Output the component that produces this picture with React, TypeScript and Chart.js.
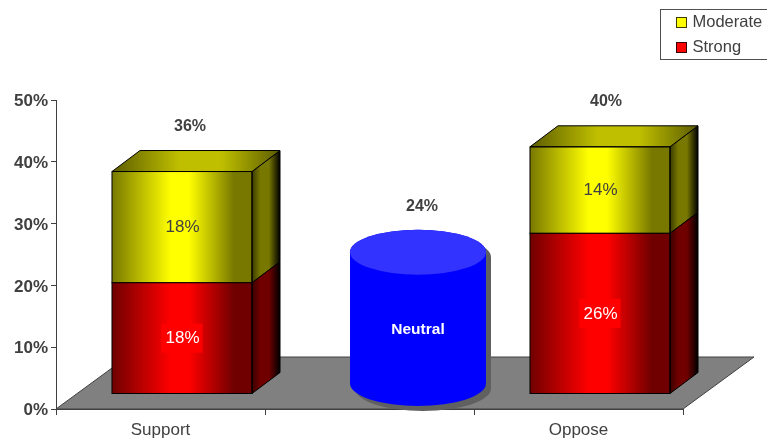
import React, { useEffect, useRef } from "react";
import { Chart, registerables } from "chart.js";

Chart.register(...registerables);

const categories = ["Support", "", "Oppose"];
const strongValues = [18, null, 26];
const moderateValues = [18, null, 14];
const neutralValues = [null, 24, null];
const totals = [36, 24, 40];
const yTicks = { min: 0, max: 50, stepSize: 10 };

const FONT = "'Liberation Sans', Arial, sans-serif";
const TEXT = "#404040";
const SHIFT = { x: 21.5, y: -15 };
const DEPTH = { x: 28, y: -21 };
const FLOOR = { x: 71, y: -52 };
const BAR_FRACTION = 0.67;
const CYL = { dx: 48.5, topInset: -8.5, baseInset: -25, halfW: 68, ry: 22.5, shadow: 5 };
const TOTAL_LABEL = [
  { dx: 8, dy: -45 },
  { dx: 31, dy: -39 },
  { dx: 6, dy: -45 },
];
const LEGEND = { left: 660.5, top: 9.5, width: 120, height: 50, swatchX: 676.5, textX: 692.5, rows: [22.5, 47.5] };

const shades: Record<string, { bright: string; mid: string; top: string; dark: string; edge: string }> = {
  yellow: { bright: "#ffff00", mid: "#787800", top: "#bfbf00", dark: "#5c5c00", edge: "#3c3c00" },
  red: { bright: "#ff0000", mid: "#700000", top: "#bf0000", dark: "#5c0000", edge: "#3c0000" },
};

function frontFill(colour: string) {
  return (c: any) => {
    const s = shades[colour];
    if (c.type !== "data") return s.bright;
    const xs = c.chart.scales.x;
    // The canvas is already translated by SHIFT when the bar is painted.
    const cx = xs.getPixelForValue(c.dataIndex);
    const half = ((xs.width / categories.length) * BAR_FRACTION) / 2;
    if (!isFinite(cx) || !isFinite(half)) return s.bright;
    const g = c.chart.ctx.createLinearGradient(cx - half, 0, cx + half, 0);
    g.addColorStop(0, s.mid);
    g.addColorStop(0.42, s.bright);
    g.addColorStop(0.55, s.bright);
    g.addColorStop(0.87, s.mid);
    g.addColorStop(1, s.mid);
    return g;
  };
}

function face(ctx: CanvasRenderingContext2D, pts: number[][], fill: any, stroke: string) {
  ctx.beginPath();
  pts.forEach((p, i) => (i ? ctx.lineTo(p[0], p[1]) : ctx.moveTo(p[0], p[1])));
  ctx.closePath();
  ctx.fillStyle = fill;
  ctx.fill();
  ctx.strokeStyle = stroke;
  ctx.lineWidth = 1;
  ctx.stroke();
}

const threeD = {
  id: "threeD",
  beforeDatasetsDraw(chart: any) {
    const { ctx, chartArea: a } = chart;
    ctx.save();
    face(
      ctx,
      [
        [a.left, a.bottom],
        [a.left + FLOOR.x, a.bottom + FLOOR.y],
        [a.right + FLOOR.x, a.bottom + FLOOR.y],
        [a.right, a.bottom],
      ],
      "#808080",
      "#404040"
    );
    ctx.restore();
  },
  beforeDatasetDraw(chart: any) {
    chart.ctx.save();
    chart.ctx.translate(SHIFT.x, SHIFT.y);
  },
  afterDatasetDraw(chart: any, args: any) {
    const { ctx } = chart;
    const ds = chart.data.datasets[args.index];
    const colour = ds.colourName;
    if (colour) {
      const s = shades[colour];
      chart.getDatasetMeta(args.index).data.forEach((el: any, i: number) => {
        if (ds.data[i] == null) return;
        const { x, y, base, width } = el.getProps(["x", "y", "base", "width"], true);
        const L = x - width / 2;
        const R = x + width / 2;
        const side = ctx.createLinearGradient(R, 0, R + DEPTH.x, 0);
        side.addColorStop(0, s.edge);
        side.addColorStop(0.3, s.mid);
        side.addColorStop(0.6, s.mid);
        side.addColorStop(1, "#000000");
        face(
          ctx,
          [
            [R, y],
            [R + DEPTH.x, y + DEPTH.y],
            [R + DEPTH.x, base + DEPTH.y],
            [R, base],
          ],
          side,
          "#000000"
        );
        if (ds.topFace) {
          const g = ctx.createLinearGradient(L, 0, R + DEPTH.x, 0);
          g.addColorStop(0, s.dark);
          g.addColorStop(0.4, s.top);
          g.addColorStop(0.65, s.top);
          g.addColorStop(1, s.dark);
          face(
            ctx,
            [
              [L, y],
              [L + DEPTH.x, y + DEPTH.y],
              [R + DEPTH.x, y + DEPTH.y],
              [R, y],
            ],
            g,
            "#000000"
          );
        }
        ctx.strokeStyle = "#000000";
        ctx.lineWidth = 1;
        ctx.strokeRect(L, y, width, base - y);
      });
    }
    ctx.restore();
  },
  afterDatasetsDraw(chart: any) {
    const { ctx } = chart;
    // Neutral cylinder
    chart.data.datasets.forEach((ds: any, di: number) => {
      if (!ds.cylinder) return;
      chart.getDatasetMeta(di).data.forEach((el: any, i: number) => {
        if (ds.data[i] == null) return;
        const { x, y, base } = el.getProps(["x", "y", "base"], true);
        const cx = x + CYL.dx;
        const top = y + CYL.topInset;
        const bot = base + CYL.baseInset;
        const body = (ox: number, oy: number, fill: string) => {
          ctx.beginPath();
          ctx.moveTo(cx - CYL.halfW + ox, top + oy);
          ctx.lineTo(cx - CYL.halfW + ox, bot + oy);
          ctx.ellipse(cx + ox, bot + oy, CYL.halfW, CYL.ry, 0, Math.PI, 0, true);
          ctx.lineTo(cx + CYL.halfW + ox, top + oy);
          ctx.ellipse(cx + ox, top + oy, CYL.halfW, CYL.ry, 0, 0, Math.PI, true);
          ctx.closePath();
          ctx.fillStyle = fill;
          ctx.fill();
        };
        body(CYL.shadow, CYL.shadow, "#606060");
        body(0, 0, "#0000ff");
        ctx.beginPath();
        ctx.ellipse(cx, top, CYL.halfW, CYL.ry, 0, 0, Math.PI * 2);
        ctx.fillStyle = "#3333ff";
        ctx.fill();
        ctx.font = `bold 15.5px ${FONT}`;
        ctx.fillStyle = "#ffffff";
        ctx.textAlign = "center";
        ctx.textBaseline = "middle";
        ctx.fillText(ds.label, cx, (top + bot) / 2 + 11.5);
      });
    });
    // Segment labels
    ctx.textAlign = "center";
    ctx.textBaseline = "middle";
    chart.data.datasets.forEach((ds: any, di: number) => {
      if (!ds.colourName) return;
      chart.getDatasetMeta(di).data.forEach((el: any, i: number) => {
        if (ds.data[i] == null) return;
        const { x, y, base } = el.getProps(["x", "y", "base"], true);
        const cx = x + SHIFT.x + 0.5;
        const cy = (y + base) / 2 + SHIFT.y;
        if (ds.colourName === "red") {
          ctx.fillStyle = "#ff0000";
          ctx.fillRect(cx - 21, cy - 14.5, 41, 29);
        }
        ctx.font = `17px ${FONT}`;
        ctx.fillStyle = ds.colourName === "red" ? "#ffffff" : TEXT;
        ctx.fillText(`${ds.data[i]}%`, cx, cy + 0.5);
      });
    });
    // Totals
    const xs = chart.scales.x;
    const ys = chart.scales.y;
    ctx.font = `bold 16px ${FONT}`;
    ctx.fillStyle = TEXT;
    totals.forEach((t, i) => {
      const pos = TOTAL_LABEL[i];
      ctx.fillText(`${t}%`, xs.getPixelForValue(i) + SHIFT.x + pos.dx, ys.getPixelForValue(t) + SHIFT.y + pos.dy);
    });
    // Legend
    ctx.strokeStyle = "#505050";
    ctx.lineWidth = 1;
    ctx.strokeRect(LEGEND.left, LEGEND.top, LEGEND.width, LEGEND.height);
    const items = chart.data.datasets.filter((d: any) => d.colourName).reverse();
    items.forEach((d: any, i: number) => {
      const yc = LEGEND.rows[i];
      const s = shades[d.colourName];
      ctx.fillStyle = s.bright;
      ctx.fillRect(LEGEND.swatchX, yc - 5, 10, 10);
      ctx.strokeStyle = s.edge;
      ctx.strokeRect(LEGEND.swatchX, yc - 5, 10, 10);
      ctx.font = `16.5px ${FONT}`;
      ctx.textAlign = "left";
      ctx.fillStyle = TEXT;
      ctx.fillText(d.label, LEGEND.textX, yc);
    });
  },
};

export default function App() {
  const ref = useRef<HTMLCanvasElement>(null);
  useEffect(() => {
    const chart = new Chart(ref.current!, {
      type: "bar",
      data: {
        labels: categories,
        datasets: [
          {
            label: "Strong",
            data: strongValues,
            colourName: "red",
            backgroundColor: frontFill("red"),
          },
          {
            label: "Moderate",
            data: moderateValues,
            colourName: "yellow",
            topFace: true,
            backgroundColor: frontFill("yellow"),
          },
          {
            label: "Neutral",
            data: neutralValues,
            cylinder: true,
            backgroundColor: "rgba(0,0,0,0)",
          },
        ] as any,
      },
      plugins: [threeD],
      options: {
        responsive: false,
        animation: false,
        datasets: { bar: { barPercentage: BAR_FRACTION, categoryPercentage: 1, borderWidth: 0, clip: false } } as any,
        layout: { padding: { top: 100, right: 84, left: 0, bottom: 0 } },
        plugins: {
          title: { display: false },
          tooltip: { enabled: false },
          legend: { display: false },
        },
        scales: {
          x: {
            stacked: true,
            offset: true,
            border: { color: TEXT, width: 1 },
            grid: { drawOnChartArea: false, offset: true, tickLength: 6, color: TEXT },
            ticks: {
              color: TEXT,
              font: { family: FONT, size: 17 },
              padding: 5,
              maxRotation: 0,
              autoSkip: false,
            },
            afterFit: (s: any) => {
              s.height = 29;
            },
          },
          y: {
            stacked: true,
            min: yTicks.min,
            max: yTicks.max,
            border: { color: TEXT, width: 1 },
            grid: { drawOnChartArea: false, tickLength: 5, color: TEXT },
            ticks: {
              stepSize: yTicks.stepSize,
              color: TEXT,
              padding: 3,
              labelOffset: 1.5,
              font: { family: FONT, size: 17, weight: "bold" },
              callback: (v: any) => `${v}%`,
            },
            afterFit: (s: any) => {
              s.width = 56;
            },
          },
        },
      },
    } as any);
    return () => chart.destroy();
  }, []);
  return (
    <div style={{ position: "absolute", left: 0, top: 0, width: 767, height: 438, background: "#fff", overflow: "hidden" }}>
      <canvas ref={ref} width={767} height={438} style={{ display: "block" }} />
    </div>
  );
}
